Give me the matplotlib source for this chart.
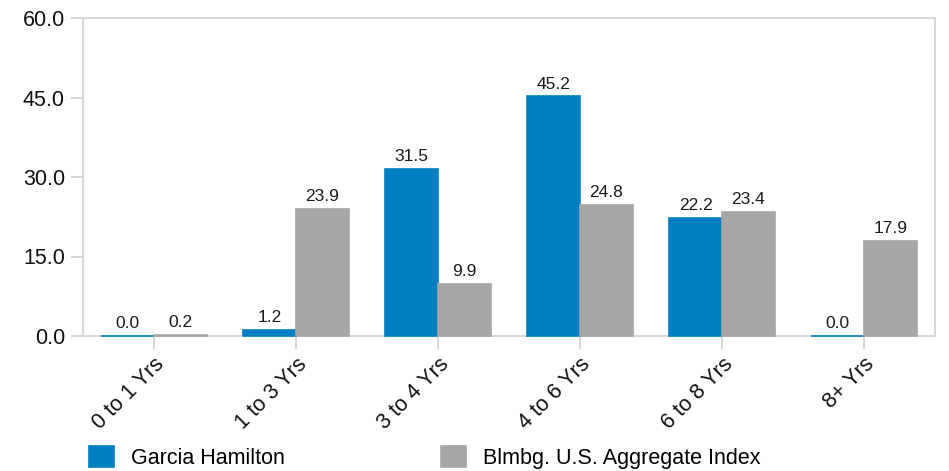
import matplotlib.pyplot as plt
import numpy as np

plt.rcParams['font.family'] = ['Liberation Sans', 'DejaVu Sans']

# faixas de duração
categorias = ['0 to 1 Yrs', '1 to 3 Yrs', '3 to 4 Yrs', '4 to 6 Yrs', '6 to 8 Yrs', '8+ Yrs']
garcia = [0.0, 1.2, 31.5, 45.2, 22.2, 0.0]
indice = [0.2, 23.9, 9.9, 24.8, 23.4, 17.9]
y_ticks = [0, 15, 30, 45, 60]

azul = '#0080c3'
cinza = '#a6a6a6'
borda = '#d4d4d4'

fig = plt.figure(figsize=(9.49, 4.71), dpi=100)
ax = fig.add_axes([83/949, 1-336/471, 852/949, 318/471])

x = np.arange(len(categorias))
w = 0.37
b1 = ax.bar(x - w/2, garcia, w, color=azul, edgecolor=azul, linewidth=1.2,
            clip_on=False, zorder=3, label='Garcia Hamilton')
b2 = ax.bar(x + w/2, indice, w, color=cinza, edgecolor=cinza, linewidth=1.2,
            clip_on=False, zorder=3, label='Blmbg. U.S. Aggregate Index')

for barras, vals in ((b1, garcia), (b2, indice)):
    for r, v in zip(barras, vals):
        ax.annotate(f'{v:.1f}', (r.get_x() + r.get_width()/2, v), xytext=(0, 3.5),
                    textcoords='offset points', ha='center', va='bottom', fontsize=12.5, color='#1a1a1a')

ax.set_xlim(-0.5, len(categorias) - 0.5)
ax.set_ylim(0, 60)
ax.set_yticks(y_ticks)
ax.set_yticklabels([f'{t:.1f}' for t in y_ticks], fontsize=15.5, color='#111111')
ax.set_xticks(x)
ax.set_xticklabels(categorias, rotation=45, ha='right', rotation_mode='anchor', fontsize=15.5, color='#111111')

for s in ax.spines.values():
    s.set_color(borda)
    s.set_linewidth(1.3)
ax.tick_params(axis='both', color=borda, length=9, width=1.3, pad=4)

fig.legend(handles=[b1, b2], loc='lower left', bbox_to_anchor=(89/949, 2/471), ncol=2,
           frameon=False, fontsize=15.5, handlelength=1.15, handleheight=1.15,
           columnspacing=7.25, handletextpad=0.8, borderpad=0, borderaxespad=0)

fig.savefig('out.png', dpi=100)
